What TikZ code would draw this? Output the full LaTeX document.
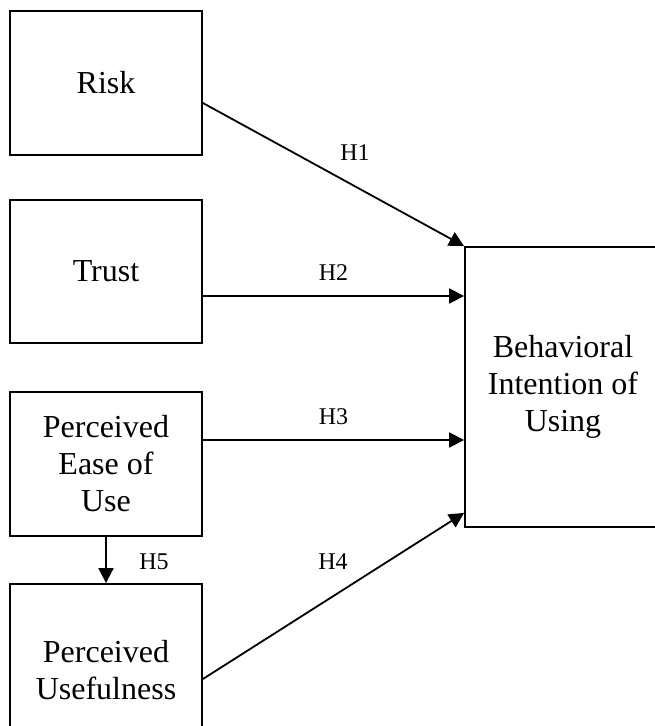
\documentclass[tikz,border=0pt]{standalone}
\usepackage{fontspec}
\setmainfont{Liberation Serif}
\usetikzlibrary{arrows.meta}
\tikzset{
  box/.style={draw,line width=1.8pt,minimum width=192pt,align=center,
    font=\fontsize{32}{37}\selectfont},
  arr/.style={line width=1.8pt,-{Triangle[length=15pt,width=15pt]}},
  lbl/.style={font=\fontsize{24}{26}\selectfont}
}
\begin{document}
\begin{tikzpicture}[x=1pt,y=-1pt]
  % Frame
  \useasboundingbox (0,0) rectangle (655,726);
  \clip (0,0) rectangle (655,726);

  % Boxes
  \node[box,minimum height=144pt] (risk) at (106,83) {Risk};
  \node[box,minimum height=143pt] (trust) at (106,271.5) {Trust};
  \node[box,minimum height=144pt] (peou) at (106,464) {Perceived\\Ease of\\Use};
  \node[box,minimum height=172pt] (pu) at (106,670) {Perceived\\Usefulness};
  \node[box,minimum width=196pt,minimum height=280pt] (bi) at (563,387)
    {Behavioral\\Intention of\\Using};

  % Start points
  \coordinate (s1) at ([yshift=-20pt]risk.east);
  \coordinate (s2) at ([yshift=-24.5pt]trust.east);
  \coordinate (s3) at ([yshift=24pt]peou.east);
  \coordinate (s4) at ([yshift=-9pt]pu.east);
  \coordinate (e4) at ([yshift=15pt]bi.south west);

  % Paths
  \draw[arr] (s1) -- (bi.north west);
  \node[lbl] (h1) at (355,153) {H1};
  \draw[arr] (s2) -- (s2 -| bi.west) node[lbl,midway,above=11pt] (h2) {H2};
  \draw[arr] (s3) -- (s3 -| bi.west) node[lbl,midway,above=11pt] (h3) {H3};
  \draw[arr] (s4) -- (e4);
  \node[lbl] (h4) at (333,562) {H4};
  \draw[arr] (peou.south) -- (pu.north);
  \node[lbl] (h5) at (154,562) {H5};
\end{tikzpicture}
\end{document}
